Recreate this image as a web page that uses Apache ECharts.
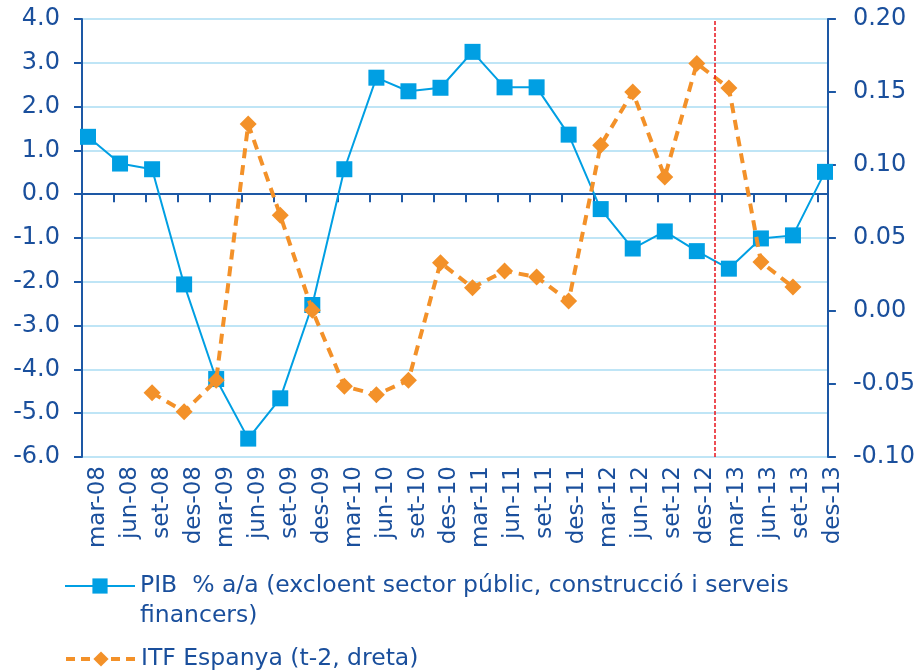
<!DOCTYPE html>
<html>
<head>
<meta charset="utf-8">
<script src="https://cdn.jsdelivr.net/npm/echarts@6/dist/echarts.min.js"></script>
<style>html,body{margin:0;padding:0;background:#fff}#c{width:918px;height:670px}</style>
</head>
<body>
<div id="c"></div>
<script>
const categories = ['mar-08','jun-08','set-08','des-08','mar-09','jun-09','set-09','des-09','mar-10','jun-10','set-10','des-10','mar-11','jun-11','set-11','des-11','mar-12','jun-12','set-12','des-12','mar-13','jun-13','set-13','des-13'];
const pibValues = [1.31,0.70,0.57,-2.06,-4.22,-5.58,-4.66,-2.53,0.57,2.66,2.35,2.43,3.25,2.44,2.44,1.36,-0.34,-1.24,-0.85,-1.30,-1.70,-1.01,-0.94,0.51];
const itfValues = [null,null,-0.056,-0.069,-0.0475,0.128,0.0655,0.0005,-0.0516,-0.0573,-0.0475,0.0331,0.016,0.0274,0.0233,0.0068,0.1135,0.150,0.0918,0.1695,0.1527,0.0336,0.0164,null];
const leftTicks = {min:-6, max:4, interval:1};
const rightTicks = {min:-0.10, max:0.20, interval:0.05};
const pibName = 'PIB  % a/a (excloent sector públic, construcció i serveis financers)';
const itfName = 'ITF Espanya (t-2, dreta)';
const forecastStart = 19.79; // position of the red dashed line on the tick scale (between des-12 and mar-13)

const BLUE = '#009fe3', ORANGE = '#f39129', AXIS = '#1d58a5', TEXT = '#1a4f9c', GRIDC = '#bfe5f6';
const FONT = 'DejaVu Sans';
const TOP = 19, H = 438;

const chart = echarts.init(document.getElementById('c'), null, {renderer:'canvas'});
chart.setOption({
  animation: false,
  grid: [
    {left: 88, top: TOP, width: 737, height: H},
    {left: 82, top: TOP, width: 747, height: H},
    {left: 82, top: TOP, width: 767, height: H}
  ],
  xAxis: [
    {type:'category', gridIndex:0, data: categories, boundaryGap:false, show:false},
    {type:'value', gridIndex:1, min:0, max:23.33, interval:1,
      axisLine:{onZero:true, lineStyle:{color:AXIS, width:2}},
      axisTick:{show:true, length:8, lineStyle:{color:AXIS, width:2}},
      axisLabel:{show:false}, splitLine:{show:false}},
    {type:'category', gridIndex:2, data: categories, boundaryGap:true,
      axisLine:{show:false}, axisTick:{show:false},
      axisLabel:{interval:0, rotate:90, margin:9, color:TEXT, fontFamily:FONT, fontSize:23}}
  ],
  yAxis: [
    {type:'value', gridIndex:0, ...leftTicks, show:false},
    {type:'value', gridIndex:0, ...rightTicks, show:false},
    {type:'value', gridIndex:1, position:'left', ...leftTicks,
      axisLine:{show:true, lineStyle:{color:AXIS, width:2}},
      axisTick:{show:true, length:8, lineStyle:{color:AXIS, width:2}},
      axisLabel:{margin:22, color:TEXT, fontFamily:FONT, fontSize:24, formatter:v=>v.toFixed(1)},
      splitLine:{show:true, lineStyle:{color:GRIDC, width:2}}},
    {type:'value', gridIndex:1, position:'right', ...rightTicks,
      axisLine:{show:true, lineStyle:{color:AXIS, width:2}},
      axisTick:{show:true, length:8, lineStyle:{color:AXIS, width:2}},
      axisLabel:{margin:25, color:TEXT, fontFamily:FONT, fontSize:24, formatter:v=>v.toFixed(2)},
      splitLine:{show:false}},
    {type:'value', gridIndex:2, min:0, max:1, show:false}
  ],
  legend: [
    {left: 59, top: 536, orient:'vertical', data:[pibName], itemWidth:70, itemHeight:19,
      formatter: () => '\u00a0\nPIB  % a/a (excloent sector públic, construcció i serveis\nfinancers)',
      lineStyle:{width:2},
      textStyle:{color:TEXT, fontFamily:FONT, fontSize:23.5, lineHeight:30}},
    {left: 59, top: 639, orient:'vertical', data:[itfName], itemWidth:70, itemHeight:19,
      lineStyle:{width:4, type:[9,6]},
      textStyle:{color:TEXT, fontFamily:FONT, fontSize:23.5, lineHeight:30}}
  ],
  series: [
    {name: pibName, type:'line', xAxisIndex:0, yAxisIndex:0, data: pibValues,
      symbol:'rect', symbolSize:16, z:3,
      itemStyle:{color:BLUE}, lineStyle:{color:BLUE, width:2}},
    {name: itfName, type:'line', xAxisIndex:0, yAxisIndex:1, data: itfValues,
      symbol:'diamond', symbolSize:17, z:4,
      itemStyle:{color:ORANGE}, lineStyle:{color:ORANGE, width:4, type:[10,7]}},
    {type:'line', xAxisIndex:1, yAxisIndex:2, data:[], silent:true,
      markLine:{silent:true, symbol:'none', label:{show:false},
        lineStyle:{color:'#e8141c', width:1.5, type:[4,2]},
        data:[{xAxis: forecastStart}]}}
  ]
});
</script>
</body>
</html>
